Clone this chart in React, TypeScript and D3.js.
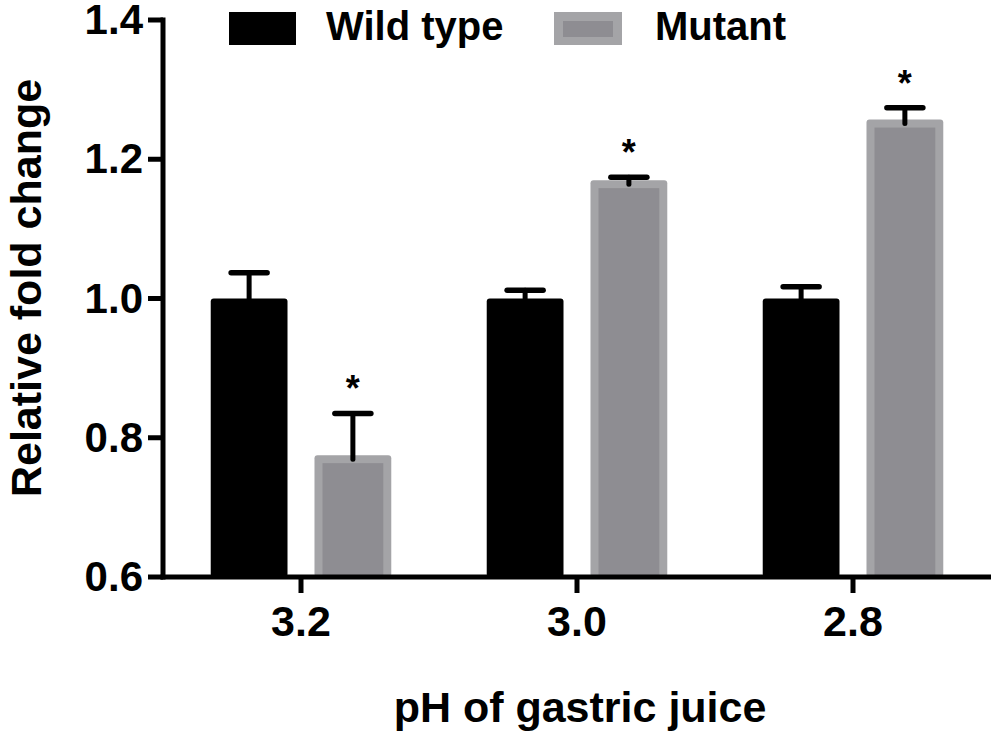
import { useMemo } from 'react'
import * as d3 from 'd3'

const categories = ['3.2', '3.0', '2.8']
const seriesNames = ['Wild type', 'Mutant']
const wildType = [1.0, 1.0, 1.0]
const wildTypeErr = [0.037, 0.012, 0.017]
const mutant = [0.775, 1.17, 1.257]
const mutantErr = [0.06, 0.004, 0.017]
const mutantSignificant = [true, true, true]
const yTicks = [0.6, 0.8, 1.0, 1.2, 1.4]

const FONT = '"Liberation Sans", Arial, Helvetica, sans-serif'
const OUTER_GREY = '#a4a4a7'
const INNER_GREY = '#8e8d92'

export default function App() {
  const width = 1000
  const height = 735

  const { x, inner, y } = useMemo(() => {
    const x = d3.scaleBand<string>().domain(categories).range([163, 991]).padding(0)
    const inner = d3
      .scaleBand<string>()
      .domain(seriesNames)
      .range([0, x.bandwidth()])
      .paddingInner(0.26)
      .paddingOuter(0.46)
    const y = d3.scaleLinear().domain([0.6, 1.4]).range([577, 20])
    return { x, inner, y }
  }, [])

  const bw = inner.bandwidth()
  const base = y(0.6)
  const series = [
    { name: seriesNames[0], values: wildType, errs: wildTypeErr },
    { name: seriesNames[1], values: mutant, errs: mutantErr },
  ]

  return (
    <svg
      width={width}
      height={height}
      style={{ position: 'absolute', left: 0, top: 0, background: '#fff' }}
      fontFamily={FONT}
      fontWeight="bold"
    >
      {/* bars */}
      {series.map((s) =>
        categories.map((c, i) => {
          const x0 = (x(c) ?? 0) + (inner(s.name) ?? 0)
          const top = y(s.values[i])
          const cx = x0 + bw / 2
          const capY = y(s.values[i] + s.errs[i])
          return (
            <g key={s.name + c}>
              {s.name === 'Wild type' ? (
                <rect x={x0} y={top} width={bw} height={base - top} rx={3} fill="#000" />
              ) : (
                <>
                  <rect x={x0} y={top} width={bw} height={base - top} rx={3} fill={OUTER_GREY} />
                  <rect x={x0 + 8} y={top + 8} width={bw - 16} height={base - top - 8} fill={INNER_GREY} />
                </>
              )}
              <line x1={cx} x2={cx} y1={top + 4} y2={capY} stroke="#000" strokeWidth={5} strokeLinecap="round" />
              <line x1={cx - 18} x2={cx + 18} y1={capY} y2={capY} stroke="#000" strokeWidth={5.5} strokeLinecap="round" />
              {s.name === 'Mutant' && mutantSignificant[i] && (
                <text x={cx} y={capY - 12} textAnchor="middle" fontSize={36} fill="#000">
                  *
                </text>
              )}
            </g>
          )
        })
      )}

      {/* y axis */}
      <line x1={163} x2={163} y1={y(1.4) - 2.5} y2={base + 2.5} stroke="#000" strokeWidth={5} />
      {yTicks.map((t) => (
        <g key={t}>
          <line x1={148} x2={163} y1={y(t)} y2={y(t)} stroke="#000" strokeWidth={5} />
          <text x={143} y={y(t) + 14} textAnchor="end" fontSize={42} fill="#000">
            {d3.format('.1f')(t)}
          </text>
        </g>
      ))}

      {/* x axis */}
      <line x1={160.5} x2={991} y1={base} y2={base} stroke="#000" strokeWidth={5} />
      {categories.map((c) => {
        const cx = (x(c) ?? 0) + x.bandwidth() / 2
        return (
          <g key={c}>
            <line x1={cx} x2={cx} y1={base} y2={base + 16} stroke="#000" strokeWidth={5} />
            <text x={cx} y={636} textAnchor="middle" fontSize={43} fill="#000">
              {c}
            </text>
          </g>
        )
      })}

      {/* axis titles */}
      <text x={580} y={722} textAnchor="middle" fontSize={43} fill="#000">
        pH of gastric juice
      </text>
      <text transform="translate(41,288) rotate(-90)" textAnchor="middle" fontSize={43} fill="#000">
        Relative fold change
      </text>

      {/* legend */}
      <rect x={229} y={12} width={67} height={33} fill="#000" />
      <text x={326} y={40} fontSize={40} fill="#000">
        {seriesNames[0]}
      </text>
      <rect x={554} y={12} width={68} height={33} fill={OUTER_GREY} />
      <rect x={563} y={21} width={50} height={16} fill={INNER_GREY} />
      <text x={655} y={40} fontSize={40} fill="#000">
        {seriesNames[1]}
      </text>
    </svg>
  )
}
